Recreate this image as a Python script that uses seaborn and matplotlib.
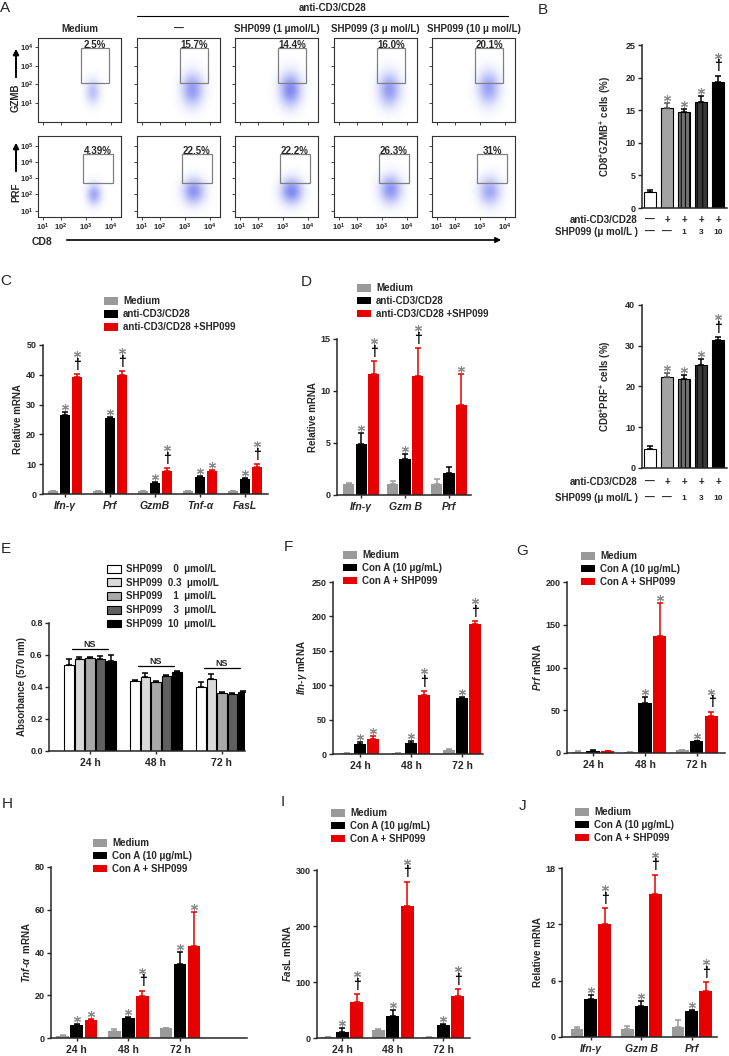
import numpy as np
import pandas as pd
import matplotlib
matplotlib.use("Agg")
import matplotlib.pyplot as plt
import seaborn as sns
from matplotlib.patches import Patch, Rectangle, FancyArrowPatch
from matplotlib.lines import Line2D
from matplotlib.transforms import offset_copy, blended_transform_factory

# -------------------- data --------------------
# A: flow cytometry (gate percentages, gate boxes and cloud centre/spread in log10 units)
A_HEADERS = ["Medium", "—", "SHP099 (1 μmol/L)", "SHP099 (3 μ mol/L)", "SHP099 (10 μ mol/L)"]
A_GZMB_PCT = ["2.5%", "15.7%", "14.4%", "16.0%", "20.1%"]
A_PRF_PCT = ["4.39%", "22.5%", "22.2%", "26.3%", "31%"]
A_GZMB_GATE = [2.8, 3.92, 2.1, 3.94]
A_PRF_GATE = [2.88, 4.08, 2.72, 4.5]
A_GZMB_CX = [3.25, 3.3, 3.3, 3.3, 3.35]
A_GZMB_CY = [1.6, 1.7, 1.7, 1.7, 1.8]
A_GZMB_SX = [0.2, 0.3, 0.3, 0.3, 0.3]
A_GZMB_SY = [0.45, 0.6, 0.6, 0.6, 0.6]
A_GZMB_DENS = [0.5, 0.8, 0.95, 0.8, 0.75]
A_PRF_CX = [3.3, 3.35, 3.35, 3.35, 3.4]
A_PRF_CY = [2.0, 2.2, 2.2, 2.3, 2.2]
A_PRF_SX = [0.2, 0.3, 0.3, 0.3, 0.3]
A_PRF_SY = [0.45, 0.55, 0.55, 0.6, 0.6]
A_PRF_DENS = [0.7, 0.85, 0.95, 0.85, 0.7]

# B: CD8+GZMB+ / CD8+PRF+ cells (%)
B_CONDITIONS = ["Medium", "CD3/CD28", "SHP099 1", "SHP099 3", "SHP099 10"]
B_ANTI_ROW = ["—", "+", "+", "+", "+"]
B_SHP_ROW = ["—", "—", "1", "3", "10"]
B_GZMB = [2.4, 15.4, 14.7, 16.2, 19.4]
B_GZMB_ERR = [0.3, 0.7, 0.5, 1.0, 0.9]
B_PRF = [4.7, 22.4, 21.9, 25.2, 31.4]
B_PRF_ERR = [0.8, 1.0, 0.8, 1.5, 0.8]
B_MARKS = ["", "*", "*", "*", "*†"]

# C: relative mRNA, anti-CD3/CD28
C_GENES = ["Ifn-γ", "Prf", "GzmB", "Tnf-α", "FasL"]
C_GROUPS = ["Medium", "anti-CD3/CD28", "anti-CD3/CD28 +SHP099"]
C_MEDIUM = [1.0, 1.0, 1.0, 1.0, 1.0]
C_MEDIUM_ERR = [0.1, 0.1, 0.1, 0.1, 0.1]
C_CD3 = [26.5, 25.6, 3.6, 5.8, 5.0]
C_CD3_ERR = [1.1, 0.3, 0.4, 0.3, 0.5]
C_SHP = [39.1, 39.9, 7.8, 7.8, 9.2]
C_SHP_ERR = [1.2, 1.4, 0.8, 0.3, 0.8]
C_CD3_MARK = ["*", "*", "*", "*", "*"]
C_SHP_MARK = ["*†", "*†", "*†", "*", "*†"]

# D: relative mRNA, anti-CD3/CD28
D_GENES = ["Ifn-γ", "Gzm B", "Prf"]
D_MEDIUM = [1.1, 1.05, 1.1]
D_MEDIUM_ERR = [0.1, 0.3, 0.45]
D_CD3 = [4.9, 3.47, 2.15]
D_CD3_ERR = [1.1, 0.43, 0.55]
D_SHP = [11.6, 11.4, 8.7]
D_SHP_ERR = [1.3, 2.7, 2.9]
D_CD3_MARK = ["*", "*", ""]
D_SHP_MARK = ["*†", "*†", "*"]

# E: absorbance (570 nm)
E_TIMES = ["24 h", "48 h", "72 h"]
E_DOSES = ["SHP099    0  μmol/L", "SHP099  0.3  μmol/L", "SHP099    1  μmol/L",
           "SHP099    3  μmol/L", "SHP099  10  μmol/L"]
E_VALUES = [[0.538, 0.438, 0.402],
            [0.574, 0.465, 0.448],
            [0.580, 0.434, 0.364],
            [0.574, 0.469, 0.354],
            [0.565, 0.492, 0.370]]
E_ERRORS = [[0.040, 0.008, 0.028],
            [0.016, 0.025, 0.032],
            [0.010, 0.004, 0.006],
            [0.021, 0.008, 0.006],
            [0.032, 0.008, 0.005]]
E_NS_LEVEL = [0.637, 0.530, 0.520]

# F-J: Con A stimulation
CONA_GROUPS = ["Medium", "Con A (10 μg/mL)", "Con A + SHP099"]

F_MEDIUM = [1.0, 1.0, 5.8]
F_MEDIUM_ERR = [0.3, 0.3, 1.0]
F_CONA = [14.6, 15.5, 81.0]
F_CONA_ERR = [3.4, 2.9, 2.5]
F_SHP = [21.8, 86.0, 188.8]
F_SHP_ERR = [4.9, 5.7, 3.9]
F_CONA_MARK = ["*", "*", "*"]
F_SHP_MARK = ["*", "*†", "*†"]

G_MEDIUM = [1.5, 0.8, 3.0]
G_MEDIUM_ERR = [0.3, 0.2, 0.5]
G_CONA = [2.3, 59.0, 13.6]
G_CONA_ERR = [0.7, 6.0, 0.8]
G_SHP = [2.3, 136.7, 43.5]
G_SHP_ERR = [0.3, 39.3, 5.0]
G_CONA_MARK = ["", "*", "*"]
G_SHP_MARK = ["", "*", "*†"]

H_MEDIUM = [1.1, 3.4, 4.5]
H_MEDIUM_ERR = [0.15, 0.7, 0.3]
H_CONA = [6.1, 9.2, 34.6]
H_CONA_ERR = [0.3, 0.5, 5.8]
H_SHP = [8.3, 19.5, 43.2]
H_SHP_ERR = [0.6, 2.7, 15.6]
H_CONA_MARK = ["*", "*", "*"]
H_SHP_MARK = ["*", "*†", "*"]

I_MEDIUM = [1.0, 14.3, 1.2]
I_MEDIUM_ERR = [0.3, 1.1, 0.3]
I_CONA = [10.7, 38.6, 23.8]
I_CONA_ERR = [7.1, 11.9, 1.2]
I_SHP = [64.2, 236.5, 75.5]
I_SHP_ERR = [14.2, 42.8, 11.8]
I_CONA_MARK = ["*", "*", "*"]
I_SHP_MARK = ["*†", "*†", "*†"]

J_GENES = ["Ifn-γ", "Gzm B", "Prf"]
J_MEDIUM = [0.9, 0.85, 1.06]
J_MEDIUM_ERR = [0.17, 0.29, 0.8]
J_CONA = [4.1, 3.3, 2.73]
J_CONA_ERR = [0.4, 0.5, 0.11]
J_SHP = [12.0, 15.2, 4.93]
J_SHP_ERR = [1.7, 2.1, 0.9]
J_CONA_MARK = ["*", "*", "*"]
J_SHP_MARK = ["*†", "*†", "*†"]

# -------------------- style --------------------
sns.set_theme(style="ticks")
plt.rcParams["font.family"] = ["Liberation Sans", "DejaVu Sans"]
plt.rcParams["font.weight"] = "bold"
plt.rcParams["mathtext.fontset"] = "custom"
plt.rcParams["mathtext.rm"] = "Liberation Sans:bold"
plt.rcParams["mathtext.bf"] = "Liberation Sans:bold"
plt.rcParams["mathtext.it"] = "Liberation Sans:italic:bold"
plt.rcParams["mathtext.default"] = "regular"
plt.rcParams["hatch.linewidth"] = 0.7
plt.rcParams["axes.linewidth"] = 1.1

GRAY = "#9a9a9a"
RED = "#e60000"
STAR = "#8a8a8a"
W, H = 729, 1056

fig = plt.figure(figsize=(W / 100, H / 100), dpi=100)


def px_axes(rect):
    l, t, r, b = rect
    return fig.add_axes([l / W, 1 - b / H, (r - l) / W, (b - t) / H])


def fx(x):
    return x / W


def fy(y):
    return 1 - y / H


def add_mark(ax, x, y, mark):
    if not mark:
        return
    if "†" in mark:
        ax.annotate("†", (x, y), xytext=(0, 3.8), textcoords="offset points",
                    ha="center", va="baseline", fontsize=10, fontweight="bold",
                    color="black", annotation_clip=False)
        dy = 20
    else:
        dy = 5
    tr = offset_copy(ax.transData, fig=fig, x=0, y=dy, units="dots")
    ax.plot([x], [y], ls="none", marker=(6, 2, 0), ms=5, mew=0.8,
            color=STAR, transform=tr, clip_on=False)


def legend_px(ax, labels, colors, left, top, edge="none", spacing=0.3):
    handles = [Patch(facecolor=c, edgecolor=edge, lw=0.8, label=lab)
               for lab, c in zip(labels, colors)]
    ax.legend(handles=handles, loc="upper left", bbox_to_anchor=(fx(left), fy(top)),
              bbox_transform=fig.transFigure, frameon=False, borderpad=0,
              borderaxespad=0, handlelength=1.4, handleheight=0.85,
              handletextpad=0.55, labelspacing=spacing,
              prop={"size": 7, "weight": "bold"})


def grouped(rect, cats, groups, vals, errs, marks, colors, ecolors, width,
            xlim, ymax, yticks, ylabel, italic=True, edge="none"):
    ax = px_axes(rect)
    df = pd.DataFrame({"cat": np.tile(cats, len(groups)),
                       "group": np.repeat(groups, len(cats)),
                       "value": np.concatenate(vals)})
    sns.barplot(data=df, x="cat", y="value", hue="group", order=cats,
                hue_order=groups, palette=colors, saturation=1, width=width,
                gap=0.1, errorbar=None, legend=False, edgecolor=edge,
                linewidth=0.8 if edge != "none" else 0, ax=ax)
    conts = list(ax.containers)
    for cont, e_list, m_list, ec in zip(conts, errs, marks, ecolors):
        for bar, e, m in zip(cont, e_list, m_list):
            xc = bar.get_x() + bar.get_width() / 2
            h = bar.get_height()
            ax.errorbar([xc], [h], yerr=[[0], [e]], fmt="none", ecolor=ec,
                        elinewidth=1.1, capsize=2.2, capthick=1.1)
            add_mark(ax, xc, h + e, m)
    ax.set_xlim(*xlim)
    ax.set_ylim(0, ymax)
    ax.set_yticks(yticks)
    ax.set_xlabel("")
    ax.set_ylabel(ylabel, fontsize=7, fontweight="bold", labelpad=2)
    ax.set_xticks(range(len(cats)))
    ax.set_xticklabels(cats, fontsize=7.5, fontweight="bold",
                       fontstyle="italic" if italic else "normal")
    ax.tick_params(axis="y", length=3, width=1, pad=1.5, labelsize=6.5)
    ax.tick_params(axis="x", length=2, width=1, pad=3)
    sns.despine(ax=ax)
    return ax


# -------------------- A: flow plots --------------------
FLOW_XLIM = (1.08, 4.4)
COL_LEFT = [38, 137, 235, 334, 432]


def flow(rect, cx, cy, sx, sy, dens, gate, pct, ylim, yticks, ylabs, first, xlabels):
    ax = px_axes(rect)
    xs = np.linspace(*FLOW_XLIM, 200)
    ys = np.linspace(*ylim, 200)
    X, Y = np.meshgrid(xs, ys)
    Z = np.exp(-0.5 * (((X - cx) / sx) ** 2 + ((Y - cy) / sy) ** 2))
    img = np.zeros(Z.shape + (4,))
    img[..., 0], img[..., 1], img[..., 2] = 0.25, 0.3, 0.92
    img[..., 3] = np.clip(Z * dens * 0.7, 0, 0.65)
    ax.imshow(img, extent=(*FLOW_XLIM, *ylim), origin="lower", aspect="auto",
              interpolation="bilinear")
    x0, x1, y0, y1 = gate
    ax.add_patch(Rectangle((x0, y0), x1 - x0, y1 - y0, fill=False,
                           ec="#808080", lw=0.9))
    ax.text((x0 + x1) / 2, y1, pct, ha="center", va="baseline", fontsize=7,
            fontweight="bold")
    ax.set_xlim(*FLOW_XLIM)
    ax.set_ylim(*ylim)
    ax.set_yticks(yticks)
    ax.set_yticklabels(ylabs if first else [])
    ax.set_xticks([1.28, 2, 3, 4])
    ax.set_xticklabels(["$10^1$", "$10^2$", "$10^3$", "$10^4$"] if xlabels else [])
    ax.tick_params(length=2, width=0.6, labelsize=5.5, pad=1.5)
    for s in ax.spines.values():
        s.set_linewidth(0.8)
        s.set_color("#333333")
    ax.grid(False)


for i in range(5):
    flow((COL_LEFT[i], 38, COL_LEFT[i] + 83, 122), A_GZMB_CX[i], A_GZMB_CY[i],
         A_GZMB_SX[i], A_GZMB_SY[i], A_GZMB_DENS[i], A_GZMB_GATE, A_GZMB_PCT[i],
         (0, 4.47), [1, 2, 3, 4], ["$10^1$", "$10^2$", "$10^3$", "$10^4$"],
         i == 0, False)
    flow((COL_LEFT[i], 136, COL_LEFT[i] + 83, 217), A_PRF_CX[i], A_PRF_CY[i],
         A_PRF_SX[i], A_PRF_SY[i], A_PRF_DENS[i], A_PRF_GATE, A_PRF_PCT[i],
         (0.61, 5.6), [1, 2, 3, 4, 5],
         ["$10^1$", "$10^2$", "$10^3$", "$10^4$", "$10^5$"], i == 0, True)
    fig.text(fx(COL_LEFT[i] + 41.5), fy(29), A_HEADERS[i], ha="center", va="center",
             fontsize=7, fontweight="bold")

fig.text(fx(333), fy(8), "anti-CD3/CD28", ha="center", va="center", fontsize=7,
         fontweight="bold")
fig.add_artist(Line2D([fx(137), fx(508)], [fy(16), fy(16)], color="black", lw=0.8))
for (x, y0, y1, lab, ly) in [(16, 80, 46, "GZMB", 98), (16, 174, 140, "PRF", 192)]:
    fig.add_artist(FancyArrowPatch((fx(x), fy(y0)), (fx(x), fy(y1)),
                                   transform=fig.transFigure, arrowstyle="-|>",
                                   mutation_scale=8, lw=1.4, color="black"))
    fig.text(fx(x), fy(ly), lab, rotation=90, ha="center", va="center",
             fontsize=7, fontweight="bold")
fig.add_artist(FancyArrowPatch((fx(64), fy(240)), (fx(504), fy(240)),
                               transform=fig.transFigure, arrowstyle="-|>",
                               mutation_scale=8, lw=1.2, color="black"))
fig.text(fx(42), fy(242), "CD8", ha="center", va="center", fontsize=7.5,
         fontweight="bold")

# -------------------- B --------------------
B_COLORS = ["white", "#a3a3a3", "#707070", "#383838", "black"]


def panel_b(rect, vals, errs, ymax, yticks, ylabel, row1, row2):
    ax = px_axes(rect)
    sns.barplot(x=B_CONDITIONS, y=vals, hue=B_CONDITIONS, palette=B_COLORS,
                saturation=1, legend=False, width=0.7, edgecolor="black",
                linewidth=0.8, ax=ax)
    bars = sorted(ax.patches, key=lambda p: p.get_x())
    bars[2].set_hatch("||||")
    bars[3].set_hatch("|||")
    for bar, e, m in zip(bars, errs, B_MARKS):
        xc = bar.get_x() + bar.get_width() / 2
        h = bar.get_height()
        ax.errorbar([xc], [h], yerr=[[0], [e]], fmt="none",
                    ecolor="#555555" if bar is bars[1] else "black",
                    elinewidth=1.1, capsize=2.2, capthick=1.1)
        add_mark(ax, xc, h + e, m)
    ax.set_xlim(-0.5, 4.5)
    ax.set_ylim(0, ymax)
    ax.set_yticks(yticks)
    ax.set_xlabel("")
    ax.set_ylabel(ylabel, fontsize=7, fontweight="bold", labelpad=9)
    ax.tick_params(axis="x", bottom=False, labelbottom=False)
    ax.tick_params(axis="y", length=3, width=1, pad=1.5, labelsize=6.5)
    sns.despine(ax=ax)
    tr = blended_transform_factory(ax.transData, fig.transFigure)
    for k, bar in enumerate(bars):
        xc = bar.get_x() + bar.get_width() / 2
        ax.text(xc, fy(row1), B_ANTI_ROW[k], transform=tr, ha="center",
                va="center", fontsize=7, fontweight="bold")
        ax.text(xc, fy(row2), B_SHP_ROW[k], transform=tr, ha="center",
                va="center", fontsize=6 if B_SHP_ROW[k] != "—" else 7,
                fontweight="bold")
    fig.text(fx(637), fy(row1), "anti-CD3/CD28", ha="right", va="center",
             fontsize=7, fontweight="bold")
    fig.text(fx(638), fy(row2), "SHP099 (μ mol/L )", ha="right", va="center",
             fontsize=7, fontweight="bold")


panel_b((641.5, 45, 726.5, 208), B_GZMB, B_GZMB_ERR, 25, [0, 5, 10, 15, 20, 25],
        "CD8$^{+}$GZMB$^{+}$ cells (%)", 220, 232)
panel_b((641.5, 305, 726.5, 468), B_PRF, B_PRF_ERR, 40, [0, 10, 20, 30, 40],
        "CD8$^{+}$PRF$^{+}$ cells (%)", 482, 498)

# -------------------- C --------------------
ax = grouped((42.5, 345, 267.5, 494), C_GENES, C_GROUPS, [C_MEDIUM, C_CD3, C_SHP],
             [C_MEDIUM_ERR, C_CD3_ERR, C_SHP_ERR],
             [[""] * 5, C_CD3_MARK, C_SHP_MARK], [GRAY, "black", RED],
             [GRAY, "black", RED], 0.8, (-0.5, 4.5), 50, [0, 10, 20, 30, 40, 50],
             "Relative mRNA")
legend_px(ax, C_GROUPS, [GRAY, "black", RED], 104, 296.5)

# -------------------- D --------------------
ax = grouped((337, 339, 471, 495), D_GENES, C_GROUPS, [D_MEDIUM, D_CD3, D_SHP],
             [D_MEDIUM_ERR, D_CD3_ERR, D_SHP_ERR],
             [[""] * 3, D_CD3_MARK, D_SHP_MARK], [GRAY, "black", RED],
             [GRAY, "black", RED], 0.85, (-0.55, 2.5), 15, [0, 5, 10, 15],
             "Relative mRNA")
legend_px(ax, C_GROUPS, [GRAY, "black", RED], 357, 283)

# -------------------- E --------------------
E_COLORS = ["white", "#dadada", "#a8a8a8", "#606060", "black"]
ax = grouped((49, 623, 245, 751), E_TIMES, E_DOSES, E_VALUES, E_ERRORS,
             [[""] * 3] * 5, E_COLORS, ["black"] * 5, 0.8, (-0.62, 2.35), 0.8,
             [0.0, 0.2, 0.4, 0.6, 0.8], "Absorbance (570 nm)", italic=False,
             edge="black")
ax.set_yticklabels(["0.0", "0.2", "0.4", "0.6", "0.8"])
legend_px(ax, E_DOSES, E_COLORS, 107, 564, edge="black", spacing=0.38)
for k, lvl in enumerate(E_NS_LEVEL):
    ax.plot([k - 0.27, k + 0.27], [lvl, lvl], color="black", lw=0.9)
    ax.text(k, lvl, "NS", ha="center", va="bottom", fontsize=6.5,
            fontweight="bold")

# -------------------- F --------------------
CONA_COLORS = [GRAY, "black", RED]
ax = grouped((333, 582, 483, 754), E_TIMES, CONA_GROUPS, [F_MEDIUM, F_CONA, F_SHP],
             [F_MEDIUM_ERR, F_CONA_ERR, F_SHP_ERR],
             [[""] * 3, F_CONA_MARK, F_SHP_MARK], CONA_COLORS, CONA_COLORS,
             0.76, (-0.53, 2.41), 250, [0, 50, 100, 150, 200, 250],
             r"$\mathit{Ifn}$-$\mathit{γ}$ mRNA", italic=False)
legend_px(ax, CONA_GROUPS, CONA_COLORS, 343, 550)

# -------------------- G --------------------
ax = grouped((567, 582, 725, 753), E_TIMES, CONA_GROUPS, [G_MEDIUM, G_CONA, G_SHP],
             [G_MEDIUM_ERR, G_CONA_ERR, G_SHP_ERR],
             [[""] * 3, G_CONA_MARK, G_SHP_MARK], CONA_COLORS, CONA_COLORS,
             0.84, (-0.5, 2.54), 200, [0, 50, 100, 150, 200],
             r"$\mathit{Prf}$ mRNA", italic=False)
legend_px(ax, CONA_GROUPS, CONA_COLORS, 581, 551)

# -------------------- H --------------------
ax = grouped((51, 867, 247, 1038), E_TIMES, CONA_GROUPS, [H_MEDIUM, H_CONA, H_SHP],
             [H_MEDIUM_ERR, H_CONA_ERR, H_SHP_ERR],
             [[""] * 3, H_CONA_MARK, H_SHP_MARK], CONA_COLORS, CONA_COLORS,
             0.82, (-0.5, 3.3), 80, [0, 20, 40, 60, 80],
             r"$\mathit{Tnf}$-$\mathit{α}$  mRNA", italic=False)
legend_px(ax, CONA_GROUPS, CONA_COLORS, 93, 838)

# -------------------- I --------------------
ax = grouped((317, 870, 470, 1038), E_TIMES, CONA_GROUPS, [I_MEDIUM, I_CONA, I_SHP],
             [I_MEDIUM_ERR, I_CONA_ERR, I_SHP_ERR],
             [[""] * 3, I_CONA_MARK, I_SHP_MARK], CONA_COLORS, CONA_COLORS,
             0.86, (-0.5, 2.53), 300, [0, 100, 200, 300],
             r"$\mathit{Fas}$L mRNA", italic=False)
legend_px(ax, CONA_GROUPS, CONA_COLORS, 331, 808)

# -------------------- J --------------------
ax = grouped((562, 868, 717, 1037), J_GENES, CONA_GROUPS, [J_MEDIUM, J_CONA, J_SHP],
             [J_MEDIUM_ERR, J_CONA_ERR, J_SHP_ERR],
             [[""] * 3, J_CONA_MARK, J_SHP_MARK], CONA_COLORS, CONA_COLORS,
             0.83, (-0.57, 2.5), 18, [0, 6, 12, 18], "Relative mRNA")
legend_px(ax, CONA_GROUPS, CONA_COLORS, 575, 807)

# -------------------- panel letters --------------------
for lab, x, y in [("A", 0, 1), ("B", 538, 3), ("C", 0, 274), ("D", 301, 275),
                  ("E", 1, 542), ("F", 284, 540), ("G", 516, 544), ("H", 2, 797),
                  ("I", 281, 795), ("J", 519, 799)]:
    fig.text(fx(x), fy(y), lab, ha="left", va="top", fontsize=11,
             fontweight="normal")

fig.savefig("out.png", dpi=100)
